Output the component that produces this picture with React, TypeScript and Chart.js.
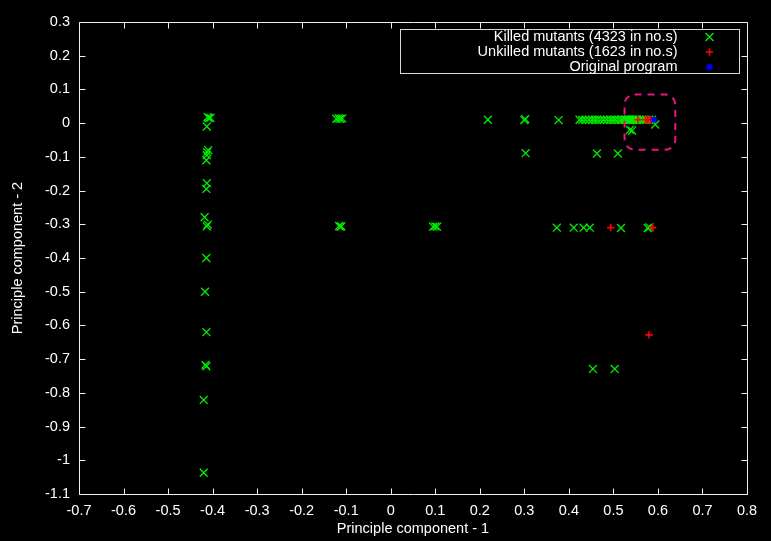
import React, { useEffect, useRef } from 'react';
import { Chart, registerables } from 'chart.js';

Chart.register(...registerables);

// ---- Data ----
const killedX = [
  -0.409, -0.405, -0.411, -0.413, -0.41, -0.412, -0.413, -0.414, -0.413, -0.414,
  -0.418, -0.411, -0.413, -0.414, -0.417, -0.414, -0.416, -0.414, -0.42, -0.42,
  -0.122, -0.117, -0.113, -0.109, -0.116, -0.111, -0.113, 0.095, 0.1, 0.104,
  0.218, 0.3, 0.302, 0.377,
  0.424, 0.43, 0.437, 0.445, 0.452, 0.458, 0.464, 0.471, 0.478, 0.485, 0.492, 0.498,
  0.504, 0.511, 0.517, 0.522, 0.526, 0.529, 0.532, 0.535, 0.538, 0.541, 0.544, 0.547,
  0.55, 0.553, 0.558, 0.564, 0.568, 0.574, 0.58, 0.586,
  0.537, 0.542, 0.594,
  0.303, 0.463, 0.51,
  0.373, 0.411, 0.433, 0.447, 0.517, 0.577, 0.581,
  0.454, 0.503,
];
const killedY = [
  0.015, 0.016, 0.018, -0.01, -0.08, -0.086, -0.095, -0.11, -0.178, -0.195,
  -0.279, -0.301, -0.306, -0.4, -0.5, -0.62, -0.717, -0.721, -0.821, -1.037,
  0.013, 0.014, 0.013, 0.014, -0.305, -0.306, -0.307, -0.307, -0.306, -0.307,
  0.01, 0.009, 0.012, 0.009,
  0.01, 0.01, 0.01, 0.01, 0.01, 0.01, 0.01, 0.01, 0.01, 0.01, 0.01, 0.01,
  0.01, 0.01, 0.01, 0.01, 0.01, 0.01, 0.01, 0.01, 0.01, 0.01, 0.01, 0.01,
  0.01, 0.01, 0.01, 0.01, 0.01, 0.01, 0.01, 0.01,
  -0.02, -0.022, -0.004,
  -0.089, -0.09, -0.09,
  -0.31, -0.31, -0.31, -0.31, -0.311, -0.311, -0.309,
  -0.729, -0.729,
];
const unkilledX = [0.555, 0.572, 0.576, 0.58, 0.584, 0.494, 0.588, 0.58];
const unkilledY = [0.01, 0.01, 0.01, 0.01, 0.01, -0.31, -0.31, -0.628];
const originalX = [0.591];
const originalY = [0.01];

const seriesLabels = [
  'Killed mutants (4323 in no.s)',
  'Unkilled mutants (1623 in no.s)',
  'Original program',
];
const seriesColors = ['#00ee00', '#ff0000', '#0000ff'];

const xRange = [-0.7, 0.8];
const yRange = [-1.1, 0.3];
const tickStep = 0.1;
const xTitle = 'Principle component - 1';
const yTitle = 'Principle component - 2';

// highlighted region (data units)
const highlightX = [0.525, 0.639];
const highlightY = [0.085, -0.079];

const FONT = '"Liberation Sans", Arial, Helvetica, sans-serif';

const toPoints = (xs: number[], ys: number[]) => xs.map((x, i) => ({ x, y: ys[i] }));
const fmtTick = (v: any) => {
  const r = Math.round(Number(v) * 10) / 10;
  return String(r === 0 ? 0 : r);
};

function drawMarker(ctx: CanvasRenderingContext2D, kind: number, x: number, y: number) {
  ctx.save();
  ctx.strokeStyle = seriesColors[kind];
  ctx.beginPath();
  if (kind === 0) {
    ctx.lineWidth = 1.3;
    const d = 4;
    ctx.moveTo(x - d, y - d); ctx.lineTo(x + d, y + d);
    ctx.moveTo(x - d, y + d); ctx.lineTo(x + d, y - d);
  } else if (kind === 1) {
    ctx.lineWidth = 1.6;
    const d = 3.7;
    ctx.moveTo(x - d, y); ctx.lineTo(x + d, y);
    ctx.moveTo(x, y - d); ctx.lineTo(x, y + d);
  } else {
    ctx.lineWidth = 1.4;
    const d = 3.5;
    ctx.moveTo(x - d, y); ctx.lineTo(x + d, y);
    ctx.moveTo(x, y - d); ctx.lineTo(x, y + d);
    const e = 2.7;
    ctx.moveTo(x - e, y - e); ctx.lineTo(x + e, y + e);
    ctx.moveTo(x - e, y + e); ctx.lineTo(x + e, y - e);
  }
  ctx.stroke();
  ctx.restore();
}

const framePlugin = {
  id: 'gnuFrame',
  beforeDatasetsDraw(chart: any) {
    const { ctx, chartArea, scales } = chart;
    const l = Math.round(chartArea.left) + 0.5;
    const r = Math.round(chartArea.right) + 0.5;
    const t = Math.round(chartArea.top) + 0.5;
    const b = Math.round(chartArea.bottom) + 0.5;
    ctx.save();
    ctx.strokeStyle = '#f0f0f0';
    ctx.lineWidth = 1;
    ctx.beginPath();
    ctx.rect(l, t, r - l, b - t);
    ctx.stroke();
    const tl = 6;
    ctx.beginPath();
    scales.x.ticks.forEach((tk: any) => {
      const px = Math.round(scales.x.getPixelForValue(tk.value)) + 0.5;
      ctx.moveTo(px, b); ctx.lineTo(px, b - tl);
      ctx.moveTo(px, t); ctx.lineTo(px, t + tl);
    });
    scales.y.ticks.forEach((tk: any) => {
      const py = Math.round(scales.y.getPixelForValue(tk.value)) + 0.5;
      ctx.moveTo(l, py); ctx.lineTo(l + tl, py);
      ctx.moveTo(r, py); ctx.lineTo(r - tl, py);
    });
    ctx.stroke();
    ctx.restore();
  },
  afterDraw(chart: any) {
    const { ctx, chartArea, scales } = chart;
    // dashed highlight box
    const x1 = scales.x.getPixelForValue(highlightX[0]);
    const x2 = scales.x.getPixelForValue(highlightX[1]);
    const y1 = scales.y.getPixelForValue(highlightY[0]);
    const y2 = scales.y.getPixelForValue(highlightY[1]);
    ctx.save();
    ctx.strokeStyle = '#e8147f';
    ctx.lineWidth = 2;
    ctx.setLineDash([7, 6]);
    ctx.beginPath();
    (ctx as any).roundRect(x1, y1, x2 - x1, y2 - y1, 10);
    ctx.stroke();
    ctx.restore();

    // legend
    const boxR = Math.round(chartArea.right) - 8 + 0.5;
    const boxT = Math.round(chartArea.top) + 7 + 0.5;
    const boxW = 339;
    const boxH = 44;
    ctx.save();
    ctx.strokeStyle = '#d8d8d8';
    ctx.lineWidth = 1;
    ctx.strokeRect(boxR - boxW, boxT, boxW, boxH);
    ctx.font = '14.5px ' + FONT;
    ctx.fillStyle = '#ffffff';
    ctx.textAlign = 'right';
    ctx.textBaseline = 'middle';
    seriesLabels.forEach((label, i) => {
      const cy = boxT + 7.5 + i * 15;
      ctx.fillText(label, boxR - 62, cy);
      drawMarker(ctx, i, boxR - 30, cy);
    });
    ctx.restore();
  },
};

export default function App() {
  const canvasRef = useRef<HTMLCanvasElement | null>(null);

  useEffect(() => {
    const canvas = canvasRef.current;
    if (!canvas) return;
    const chart = new Chart(canvas, {
      type: 'scatter',
      data: {
        datasets: [
          {
            label: seriesLabels[0],
            data: toPoints(killedX, killedY),
            pointStyle: 'crossRot',
            pointRadius: 5.6,
            borderColor: seriesColors[0],
            backgroundColor: seriesColors[0],
            pointBorderWidth: 1.3,
            order: 3,
          },
          {
            label: seriesLabels[1],
            data: toPoints(unkilledX, unkilledY),
            pointStyle: 'cross',
            pointRadius: 3.7,
            borderColor: seriesColors[1],
            backgroundColor: seriesColors[1],
            pointBorderWidth: 1.6,
            order: 2,
          },
          {
            label: seriesLabels[2],
            data: toPoints(originalX, originalY),
            pointStyle: 'star',
            pointRadius: 3.6,
            borderColor: seriesColors[2],
            backgroundColor: seriesColors[2],
            pointBorderWidth: 1.4,
            order: 1,
          },
        ],
      },
      options: {
        animation: false,
        responsive: false,
        events: [],
        layout: { padding: { top: 22, right: 24, left: 0, bottom: 0 } },
        plugins: {
          legend: { display: false },
          tooltip: { enabled: false },
        },
        scales: {
          x: {
            type: 'linear',
            min: xRange[0],
            max: xRange[1],
            grid: { display: false, drawTicks: false },
            border: { display: false },
            ticks: {
              stepSize: tickStep,
              autoSkip: false,
              maxRotation: 0,
              color: '#ffffff',
              padding: 8,
              font: { family: FONT, size: 14.5 },
              callback: fmtTick,
            },
            title: {
              display: true,
              text: xTitle,
              color: '#ffffff',
              font: { family: FONT, size: 14.5 },
              padding: { top: 0, bottom: 3 },
            },
            afterFit: (s: any) => { s.height = 47; },
          },
          y: {
            type: 'linear',
            min: yRange[0],
            max: yRange[1],
            grid: { display: false, drawTicks: false },
            border: { display: false },
            ticks: {
              stepSize: tickStep,
              autoSkip: false,
              color: '#ffffff',
              padding: 9,
              font: { family: FONT, size: 14.5 },
              callback: fmtTick,
            },
            title: {
              display: true,
              text: yTitle,
              color: '#ffffff',
              font: { family: FONT, size: 14.5 },
              padding: { top: 9, bottom: 0 },
            },
            afterFit: (s: any) => { s.width = 79; },
          },
        },
      },
      plugins: [framePlugin],
    } as any);
    return () => chart.destroy();
  }, []);

  return (
    <div
      style={{
        position: 'fixed',
        left: 0,
        top: 0,
        width: 771,
        height: 541,
        background: '#000000',
      }}
    >
      <canvas ref={canvasRef} width={771} height={541} style={{ display: 'block' }} />
    </div>
  );
}
